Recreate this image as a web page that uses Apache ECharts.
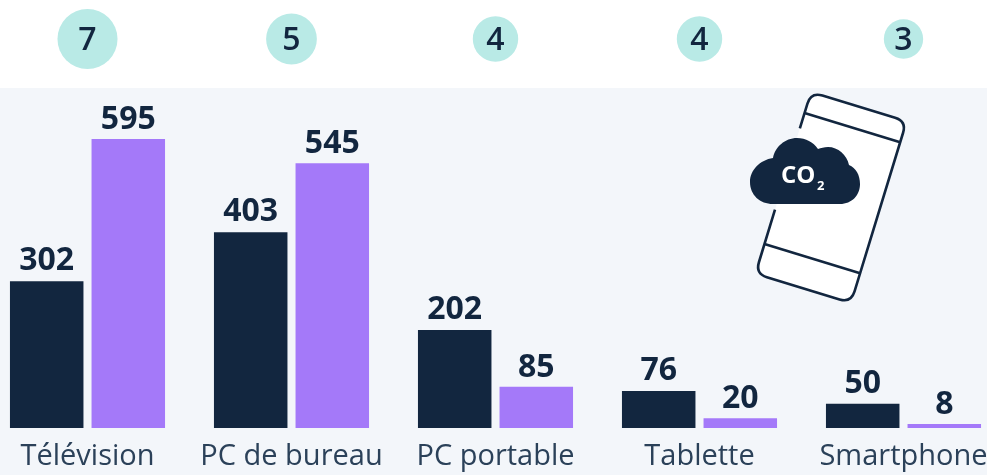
<!DOCTYPE html>
<html>
<head>
<meta charset="utf-8">
<script src="https://cdn.jsdelivr.net/npm/echarts@6/dist/echarts.min.js"></script>
<style>
html,body{margin:0;padding:0;background:#fff;}
#chart{width:987px;height:475px;}
</style>
</head>
<body>
<div id="chart"></div>
<script>
var categories = ['Télévision','PC de bureau','PC portable','Tablette','Smartphone'];
var darkValues = [302,403,202,76,50];
var purpleValues = [595,545,85,20,8];
var circleValues = [7,5,4,4,3];

var COLOR = {
	DARK:'#12263f',
	PURPLE:'#a479f9',
	CIRCLE:'#b9eae6',
	BACK:'#f3f6fa',
	AXIS_TEXT:'#2b4159'
};
var FONT = '"Open Sans"';

var circleData = [];
for(var i = 0; i < categories.length; i++){
	circleData.push([categories[i],1,circleValues[i]]);
}

// telephone, dessine autour de son centre, avec un trou a gauche pour le nuage
var phoneFill = 'M-38,-95 L38,-95 Q50,-95 50,-83 L50,83 Q50,95 38,95 L-38,95 Q-50,95 -50,83 L-50,-83 Q-50,-95 -38,-95 Z';
var phoneLine = 'M-50,-57 L-50,-83 Q-50,-95 -38,-95 L38,-95 Q50,-95 50,-83 L50,83 Q50,95 38,95 L-38,95 Q-50,95 -50,83 L-50,28';
var cloud = 'M773,204 L840,204 C852,204 860,195 860,184 C860,175 856,168 849,165 C847,155 838,147 828,147 C824,147 821,148 818,149 C813,142 806,138 797,138 C785,138 775,147 773,158 C760,160 750,170 750,182 C750,195 760,204 773,204 Z';

echarts.graphic.registerShape('phoneFill',echarts.graphic.extendPath(phoneFill));
echarts.graphic.registerShape('phoneLine',echarts.graphic.extendPath(phoneLine));
echarts.graphic.registerShape('cloud',echarts.graphic.extendPath(cloud));

var myChart = echarts.init(document.getElementById('chart'));
myChart.setOption({
	animation:false,
	graphic:[
		{type:'rect',z:-10,silent:true,shape:{x:0,y:88,width:987,height:387},style:{fill:COLOR.BACK}},
		{type:'group',x:831,y:197.5,rotation:-17*Math.PI/180,z:5,silent:true,children:[
			{type:'phoneFill',style:{fill:'#fff'}},
			{type:'phoneLine',style:{fill:null,stroke:COLOR.DARK,lineWidth:2.6}},
			{type:'line',shape:{x1:-50,y1:-73,x2:50,y2:-73},style:{stroke:COLOR.DARK,lineWidth:2.6}},
			{type:'line',shape:{x1:-50,y1:64,x2:50,y2:64},style:{stroke:COLOR.DARK,lineWidth:2.6}}
		]},
		{type:'cloud',z:6,silent:true,style:{fill:COLOR.DARK}},
		{type:'text',z:7,silent:true,x:781,y:164,style:{text:'CO',fill:'#fff',font:'bold 24px '+FONT}},
		{type:'text',z:7,silent:true,x:817,y:180,style:{text:'2',fill:'#fff',font:'bold 13px '+FONT}}
	],
	// la marge de gauche et de droite tombe sur le centre des groupes, d'ou boundaryGap false
	grid:[
		{left:87.5,right:83.5,top:88,height:340,outerBoundsMode:'none'},
		{left:87.5,right:83.5,top:0,height:78,outerBoundsMode:'none'}
	],
	xAxis:[
		{
			type:'category',
			gridIndex:0,
			data:categories,
			boundaryGap:false,
			axisLine:{show:false},
			axisTick:{show:false},
			axisLabel:{color:COLOR.AXIS_TEXT,fontFamily:FONT,fontSize:29,margin:14,interval:0,showMinLabel:true,showMaxLabel:true}
		},
		{
			type:'category',
			gridIndex:1,
			data:categories,
			boundaryGap:false,
			show:false
		}
	],
	yAxis:[
		{type:'value',gridIndex:0,min:0,max:700,show:false,splitLine:{show:false}},
		{type:'value',gridIndex:1,min:0,max:2,show:false,splitLine:{show:false}}
	],
	series:[
		{
			name:'dark',
			type:'bar',
			data:darkValues,
			barWidth:73.5,
			barGap:'11%',
			clip:false,
			itemStyle:{color:COLOR.DARK},
			label:{show:true,position:'top',distance:4,color:COLOR.DARK,fontFamily:FONT,fontWeight:'bold',fontSize:32}
		},
		{
			name:'purple',
			type:'bar',
			data:purpleValues,
			barWidth:73.5,
			clip:false,
			itemStyle:{color:COLOR.PURPLE},
			label:{show:true,position:'top',distance:3,color:COLOR.DARK,fontFamily:FONT,fontWeight:'bold',fontSize:32}
		},
		{
			name:'circles',
			type:'scatter',
			xAxisIndex:1,
			yAxisIndex:1,
			data:circleData,
			clip:false,
			symbol:'circle',
			symbolSize:function(v){ return 22.7*Math.sqrt(v[2]); },
			itemStyle:{color:COLOR.CIRCLE,opacity:1},
			label:{
				show:true,
				position:'inside',
				offset:[0,2],
				color:COLOR.DARK,
				fontFamily:FONT,
				fontWeight:600,
				fontSize:32,
				formatter:function(p){ return p.value[2]; }
			}
		}
	]
});
</script>
</body>
</html>
